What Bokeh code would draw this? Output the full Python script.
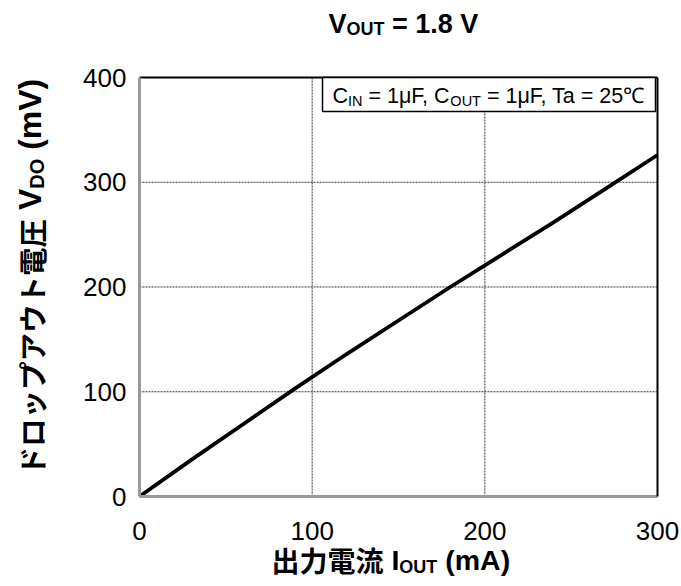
import math
from bokeh.plotting import figure
from bokeh.models import Range1d, FixedTicker, LinearAxis, Label, BoxAnnotation
from bokeh.embed import file_html
from bokeh.resources import INLINE

# ---- data ----
iout_ma = [0, 30, 60, 90, 120, 150, 180, 210, 240, 270, 300]
vdo_mv = [0, 35, 69, 103, 136, 168, 200, 231, 262, 294, 326]
x_ticks = [0, 100, 200, 300]
y_ticks = [0, 100, 200, 300, 400]
grid_x = [100, 200]
grid_y = [100, 200, 300]

title_parts = [("V", False), ("OUT", True), (" = 1.8 V", False)]
cond_parts = [("C", False), ("IN", True), (" = 1μF, C", False), ("OUT", True), (" = 1μF, Ta = 25℃", False)]
xlabel_parts = [("出力電流", "cjk"), (" I", "lat"), ("OUT", "sub"), (" (mA)", "lat")]
ylabel_parts = [("ドロップアウト電圧", "cjk"), (" V", "lat"), ("DO", "sub"), (" (mV)", "lat")]

LAT = "Liberation Sans"
CJK = "Noto Sans CJK JP"

# ---- layout (page pixels) ----
W, H = 681, 586
PL, PR, PT, PB = 139, 657, 77, 496   # chart area
XMIN, XMAX = x_ticks[0], x_ticks[-1]
YMIN, YMAX = y_ticks[0], y_ticks[-1]
xs = (XMAX - XMIN) / (PR - PL)
ys = (YMAX - YMIN) / (PB - PT)

p = figure(width=W, height=H, output_backend="svg", toolbar_location=None,
           x_range=Range1d(XMIN - PL * xs, XMAX + (W - PR) * xs),
           y_range=Range1d(YMIN - (H - PB) * ys, YMAX + PT * ys),
           min_border_left=0, min_border_right=0, min_border_top=0, min_border_bottom=0)
p.title.visible = False
p.outline_line_color = None
p.background_fill_color = "white"
p.border_fill_color = "white"
p.xgrid.visible = False
p.ygrid.visible = False

# grid lines (dotted)
p.segment(x0=grid_x, y0=[YMIN] * len(grid_x), x1=grid_x, y1=[YMAX] * len(grid_x),
          line_color="#333333", line_dash="2 1", line_width=1)
p.segment(x0=[XMIN] * len(grid_y), y0=grid_y, x1=[XMAX] * len(grid_y), y1=grid_y,
          line_color="#333333", line_dash="2 1", line_width=1)

# data
p.line(iout_ma, vdo_mv, line_color="black", line_width=3.8)

xa, ya = p.xaxis[0], p.yaxis[0]
xa.fixed_location = YMIN
ya.fixed_location = XMIN
xa.bounds = (XMIN, XMAX)
ya.bounds = (YMIN, YMAX)
xa.ticker = FixedTicker(ticks=x_ticks)
ya.ticker = FixedTicker(ticks=y_ticks)
for ax in (xa, ya):
    ax.axis_line_color = "#999999"
    ax.axis_line_width = 3
    ax.major_tick_line_color = None
    ax.minor_tick_line_color = None
    ax.major_label_text_font = LAT
    ax.major_label_text_font_size = "26px"
    ax.major_label_text_color = "black"
xa.major_label_standoff = 19
ya.major_label_standoff = 7

top_ax = LinearAxis(fixed_location=YMAX, bounds=(XMIN, XMAX), ticker=FixedTicker(ticks=[]),
                    axis_line_color="black", axis_line_width=2,
                    major_tick_line_color=None, minor_tick_line_color=None,
                    major_label_text_font_size="0px")
right_ax = LinearAxis(fixed_location=XMAX, bounds=(YMIN, YMAX), ticker=FixedTicker(ticks=[]),
                      axis_line_color="black", axis_line_width=2,
                      major_tick_line_color=None, minor_tick_line_color=None,
                      major_label_text_font_size="0px")
p.add_layout(top_ax, "above")
p.add_layout(right_ax, "right")

# condition box
p.add_layout(BoxAnnotation(left=XMIN + (322 - PL) * xs, right=XMIN + (655 - PL) * xs,
                           top=YMAX, bottom=YMIN + (PB - 111) * ys,
                           fill_color="white", fill_alpha=1.0,
                           line_color="black", line_alpha=1.0, line_width=1.5))

REG = {" ": .278, "=": .584, "1": .556, "2": .556, "5": .556, "8": .556, ".": .278, ",": .278,
       "μ": .5, "F": .611, "C": .722, "I": .278, "N": .722, "O": .778, "U": .722, "T": .611,
       "a": .556, "℃": 1.0, "(": .333, ")": .333, "m": .833, "A": .667, "V": .667, "D": .722}
BOLD = {" ": .278, "=": .584, "1": .556, ".": .278, "8": .556, "V": .667, "O": .778, "U": .722,
        "T": .611, "I": .278, "(": .333, ")": .333, "m": .889, "A": .722, "D": .722}
K = 0.36  # baseline correction for Label rendering


def width(text, size, bold):
    tbl = BOLD if bold else REG
    return sum(tbl.get(c, 1.0) for c in text) * size


def place(segs, px, py, vertical=False):
    pos = 0.0
    for text, size, bold, font, shift in segs:
        stripped = text.lstrip(" ")
        lead = len(text) - len(stripped)
        pos += lead * (BOLD if bold else REG)[" "] * size
        if vertical:
            sx = px + shift - K * size
            sy = H - (py - pos)
            ang = math.pi / 2
        else:
            sx = px + pos
            sy = H - (py + shift - K * size)
            ang = 0
        p.add_layout(Label(x=sx, y=sy, x_units="screen", y_units="screen", text=stripped,
                           angle=ang, text_font=font, text_font_size=f"{size}px",
                           text_font_style="bold" if bold else "normal",
                           text_align="left", text_baseline="alphabetic", text_color="black"))
        pos += width(stripped, size, bold)


# title
TS, TSS = 27, 18
place([(t, TSS if sub else TS, True, LAT, 2 if sub else 0) for t, sub in title_parts], 328, 33)

# conditions
CS, CSS = 21.5, 14.5
place([(t, CSS if sub else CS, False, LAT, 2.5 if sub else 0) for t, sub in cond_parts], 332, 103)


def seglist(parts, js, ls, lss, sub_shift):
    out = []
    for t, kind in parts:
        if kind == "cjk":
            out.append((t, js, True, CJK, 0))
        elif kind == "sub":
            out.append((t, lss, True, LAT, sub_shift))
        else:
            out.append((t, ls, True, LAT, 0))
    return out


place(seglist(xlabel_parts, 28, 28.5, 18, 3), 271, 570)
place(seglist(ylabel_parts, 28.5, 32, 20, 3), 41, 475, vertical=True)

open("out.html", "w").write(file_html(p, INLINE))
